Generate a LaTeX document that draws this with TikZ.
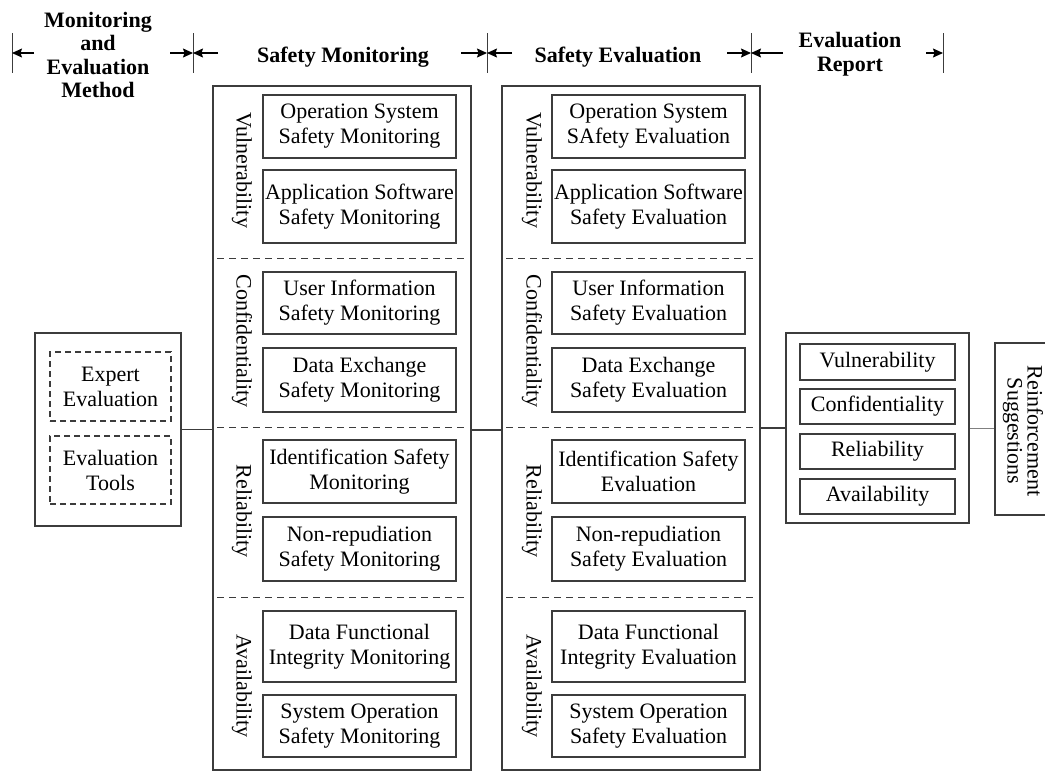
\documentclass[tikz,border=0pt]{standalone}
\usepackage{fontspec}
\setmainfont{Liberation Serif}
\usetikzlibrary{arrows.meta}
\definecolor{linec}{RGB}{60,60,60}
\begin{document}
\begin{tikzpicture}[x=1pt,y=-1pt,
  every node/.style={text=black},
  txt/.style={font=\fontsize{22}{25}\selectfont, align=center, inner sep=0pt},
  box/.style={txt, draw=linec, line width=1.1pt},
  dbox/.style={box, dashed, dash pattern=on 6pt off 4pt},
  col/.style={draw=linec, line width=1.1pt, inner sep=0pt},
  sep/.style={draw=linec, line width=1pt, dash pattern=on 7pt off 5pt},
  head/.style={font=\bfseries\fontsize{22}{23.5}\selectfont, align=center, inner sep=0pt},
  dim/.style={draw=black, line width=1.1pt, -{Stealth[length=10pt,width=9pt,inset=1.5pt]}},
  bar/.style={draw=linec, line width=1pt},
  conn/.style={draw=linec, line width=1.1pt}]
\path[use as bounding box, clip] (0,0) rectangle (1045,772);

% ---------- header ----------
\node[head] (h1) at (98,55) {Monitoring\\and\\Evaluation\\Method};
\node[head] (h2) at (343,57) {Safety Monitoring};
\node[head] (h3) at (618,57) {Safety Evaluation};
\node[head] (h4) at (850,54) {Evaluation\\Report};
\foreach \x [count=\i] in {12,193,487,751,943}{
  \coordinate (bt\i) at (\x,33);
  \coordinate (bb\i) at (\x,73);
  \coordinate (bm\i) at (\x,53);
  \draw[bar] (bt\i) -- (bb\i);
}
\coordinate (a1) at (34,53);
\coordinate (a2) at (170,53);
\coordinate (a3) at (218,53);
\coordinate (a4) at (461,53);
\coordinate (a5) at (512,53);
\coordinate (a6) at (727,53);
\coordinate (a7) at (783,53);
\coordinate (a8) at (926,53);
\draw[dim] (a1) -- (bm1);
\draw[dim] (a2) -- (bm2);
\draw[dim] (a3) -- (bm2);
\draw[dim] (a4) -- (bm3);
\draw[dim] (a5) -- (bm3);
\draw[dim] (a6) -- (bm4);
\draw[dim] (a7) -- (bm4);
\draw[dim] (a8) -- (bm5);

% ---------- left method box ----------
\node[col, minimum width=146pt, minimum height=193pt] (meth) at (108,429.5) {};
\node[dbox, minimum width=121pt, minimum height=69pt] (expert) at (110.5,386.5) {Expert\\Evaluation};
\node[dbox, minimum width=121pt, minimum height=68pt] (tools) at (110.5,470) {Evaluation\\Tools};

% ---------- monitoring column ----------
\node[col, minimum width=258pt, minimum height=684pt] (mon) at (342,428) {};
\node[box, minimum width=193pt, minimum height=63pt] (m1) at (359.5,126.5) {Operation System\\Safety Monitoring};
\node[box, minimum width=193pt, minimum height=73pt] (m2) at (359.5,206.5) {Application Software\\Safety Monitoring};
\node[box, minimum width=193pt, minimum height=62pt] (m3) at (359.5,303) {User Information\\Safety Monitoring};
\node[box, minimum width=193pt, minimum height=64pt] (m4) at (359.5,380) {Data Exchange\\Safety Monitoring};
\node[box, minimum width=193pt, minimum height=63pt] (m5) at (359.5,471.5) {Identification Safety\\Monitoring};
\node[box, minimum width=193pt, minimum height=64pt] (m6) at (359.5,549) {Non-repudiation\\Safety Monitoring};
\node[box, minimum width=193pt, minimum height=71pt] (m7) at (359.5,646.5) {Data Functional\\Integrity Monitoring};
\node[box, minimum width=193pt, minimum height=62pt] (m8) at (359.5,726) {System Operation\\Safety Monitoring};
\node[txt, rotate=-90] (mv) at (242,170) {Vulnerability};
\node[txt, rotate=-90] (mc) at (242,341) {Confidentiality};
\node[txt, rotate=-90] (mr) at (242,511) {Reliability};
\node[txt, rotate=-90] (ma) at (242,686) {Availability};
\foreach \y in {258,427,597}{
  \draw[sep] ([xshift=5pt]mon.west |- 0,\y) -- ([xshift=-4pt]mon.east |- 0,\y);
}

% ---------- evaluation column ----------
\node[col, minimum width=258pt, minimum height=684pt] (ev) at (631,428) {};
\node[box, minimum width=193pt, minimum height=63pt] (e1) at (648.5,126.5) {Operation System\\SAfety Evaluation};
\node[box, minimum width=193pt, minimum height=73pt] (e2) at (648.5,206.5) {Application Software\\Safety Evaluation};
\node[box, minimum width=193pt, minimum height=62pt] (e3) at (648.5,303) {User Information\\Safety Evaluation};
\node[box, minimum width=193pt, minimum height=64pt] (e4) at (648.5,380) {Data Exchange\\Safety Evaluation};
\node[box, minimum width=193pt, minimum height=63pt] (e5) at (648.5,471.5) {Identification Safety\\Evaluation};
\node[box, minimum width=193pt, minimum height=64pt] (e6) at (648.5,549) {Non-repudiation\\Safety Evaluation};
\node[box, minimum width=193pt, minimum height=71pt] (e7) at (648.5,646.5) {Data Functional\\Integrity Evaluation};
\node[box, minimum width=193pt, minimum height=62pt] (e8) at (648.5,726) {System Operation\\Safety Evaluation};
\node[txt, rotate=-90] (ev1) at (532,170) {Vulnerability};
\node[txt, rotate=-90] (ev2) at (532,341) {Confidentiality};
\node[txt, rotate=-90] (ev3) at (532,511) {Reliability};
\node[txt, rotate=-90] (ev4) at (532,686) {Availability};
\foreach \y in {258,427,597}{
  \draw[sep] ([xshift=5pt]ev.west |- 0,\y) -- ([xshift=-4pt]ev.east |- 0,\y);
}

% ---------- report ----------
\node[col, minimum width=183pt, minimum height=190pt] (rep) at (877.5,428) {};
\node[box, minimum width=155pt, minimum height=36pt] (r1) at (877.5,362) {Vulnerability};
\node[box, minimum width=155pt, minimum height=35pt] (r2) at (877.5,406.5) {Confidentiality};
\node[box, minimum width=155pt, minimum height=35pt] (r3) at (877.5,451.5) {Reliability};
\node[box, minimum width=155pt, minimum height=35pt] (r4) at (877.5,496.5) {Availability};

% ---------- reinforcement ----------
\node[col, minimum width=70pt, minimum height=172pt] (rein) at (1030,429) {};
\node[txt, rotate=-90, font=\fontsize{22}{20}\selectfont] (reint) at (1023,431) {Reinforcement\\Suggestions};

% ---------- connectors ----------
\draw[conn] (meth.east) -- (meth.east -| mon.west);
\draw[conn] (mon.east |- 0,430) -- (ev.west |- 0,430);
\draw[conn] (ev.east |- rep.west) -- (rep.west);
\draw[draw=gray, line width=0.8pt] (rep.east) -- (rep.east -| rein.west);
\end{tikzpicture}
\end{document}
